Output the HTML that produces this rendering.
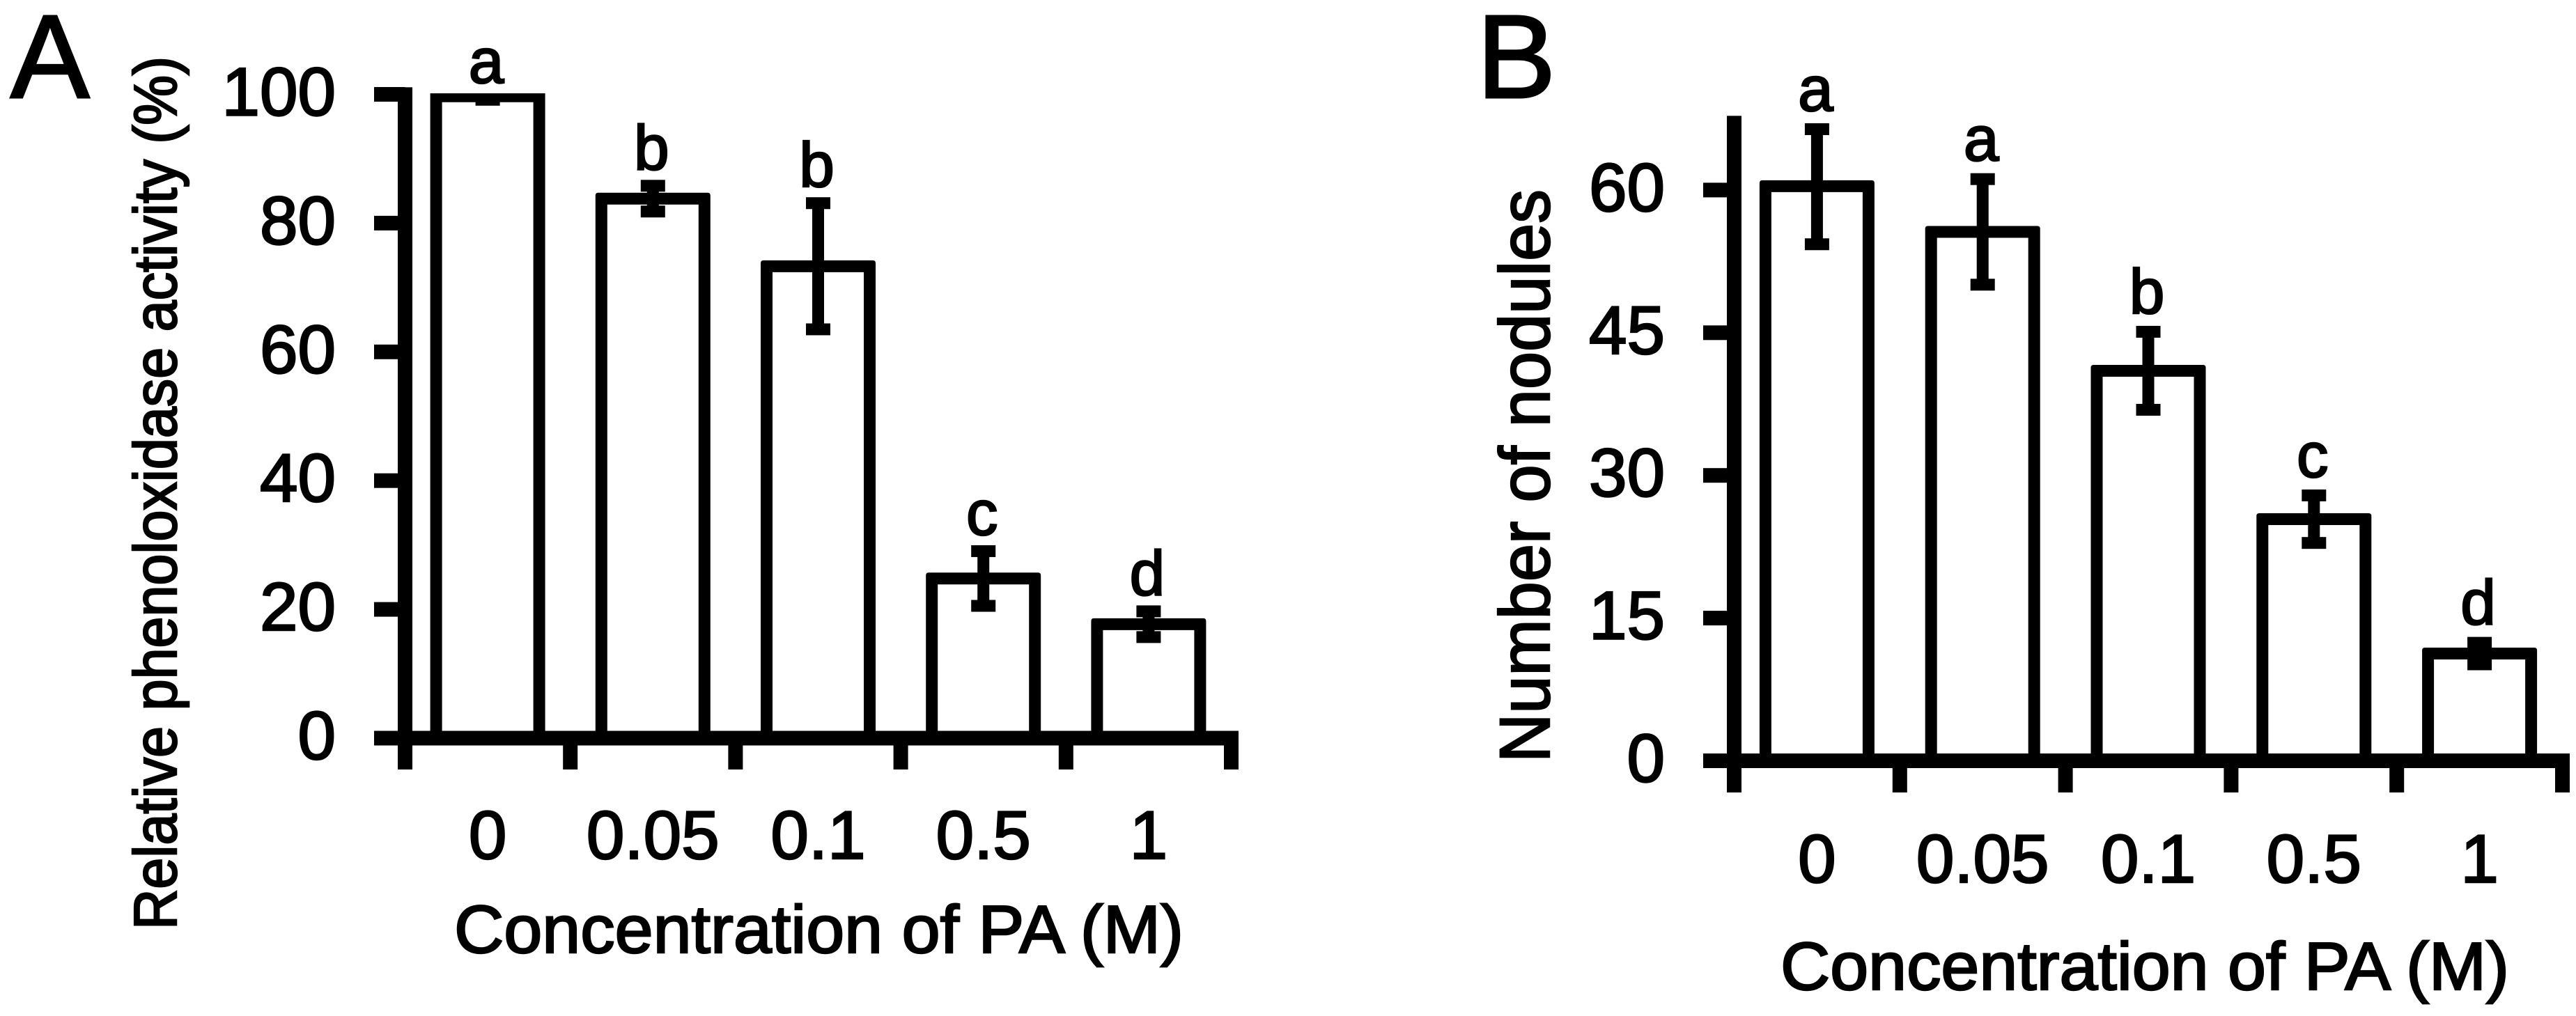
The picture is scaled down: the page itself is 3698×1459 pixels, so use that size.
<!DOCTYPE html>
<html lang="en">
<head>
<meta charset="utf-8">
<title>Phenoloxidase activity and nodule number by PA concentration</title>
<style>
  html, body { margin: 0; padding: 0; background: #fff; }
  svg { display: block; }
  text { font-family: "Liberation Sans", Arial, sans-serif; fill: #000; stroke: #000; stroke-width: 2.5px; text-rendering: geometricPrecision; }
  text.panel-letter { stroke-width: 3px; }
</style>
</head>
<body>
<svg id="figure" xmlns="http://www.w3.org/2000/svg" width="3698" height="1459" viewBox="0 0 3698 1459">
  <rect x="0" y="0" width="3698" height="1459" fill="#fff"/>
  <text class="panel-letter" x="15" y="140" font-size="170">A</text>
  <text class="panel-letter" x="2120" y="140" font-size="170">B</text>
  <text transform="translate(253 1335) rotate(-90)" font-size="87" textLength="1254" lengthAdjust="spacingAndGlyphs">Relative phenoloxidase activity (%)</text>
  <text transform="translate(2224 1095) rotate(-90)" font-size="102" textLength="823" lengthAdjust="spacingAndGlyphs">Number of nodules</text>
  <text x="652" y="1368" font-size="97" textLength="1047" lengthAdjust="spacingAndGlyphs">Concentration of PA (M)</text>
  <text x="2556" y="1421" font-size="97" textLength="1046" lengthAdjust="spacingAndGlyphs">Concentration of PA (M)</text>
  <g id="panel-a"></g>
  <g id="panel-b"></g>
</svg>
<script>
// Shared categories
const categories = ["0", "0.05", "0.1", "0.5", "1"];

// Panel A data: relative phenoloxidase activity (%)
const valuesA = [99.7, 83.8, 73.3, 24.8, 17.7];
const errUpA = [0.54, 2.0, 9.8, 4.25, 2.0];
const errDownA = [0.54, 2.0, 9.8, 4.25, 2.0];
const lettersA = ["a", "b", "b", "c", "d"];
const ticksA = [0, 20, 40, 60, 80, 100];

// Panel B data: number of nodules
const valuesB = [60.4, 55.6, 41.0, 25.4, 11.27];
const errUpB = [6.0, 5.55, 4.1, 2.5, 1.13];
const errDownB = [6.1, 5.55, 4.1, 2.5, 1.13];
const lettersB = ["a", "a", "b", "c", "d"];
const ticksB = [0, 15, 30, 45, 60];

const SVG_NS = "http://www.w3.org/2000/svg";

function make(parent, tag, attrs, content) {
  const el = document.createElementNS(SVG_NS, tag);
  for (const key in attrs) el.setAttribute(key, attrs[key]);
  if (content !== undefined) el.textContent = content;
  parent.appendChild(el);
  return el;
}

function barOutline(cx, yTop, yBase) {
  const half = 82.5;
  const s = 17;
  const r = 4;
  const x0 = cx - half;
  const x1 = cx + half;
  return "M" + x0 + " " + yBase +
    "V" + (yTop + r) +
    "Q" + x0 + " " + yTop + " " + (x0 + r) + " " + yTop +
    "H" + (x1 - r) +
    "Q" + x1 + " " + yTop + " " + x1 + " " + (yTop + r) +
    "V" + yBase +
    "H" + (x1 - s) +
    "V" + (yTop + s) +
    "H" + (x0 + s) +
    "V" + yBase + "Z";
}

function drawPanel(root, opt) {
  const yScale = v => opt.zeroY - v * opt.unitPx;
  const bandEdge = i => opt.axisX + i * opt.bandPx;
  const barCenter = i => bandEdge(i) + opt.bandPx / 2;
  const lw = 21;
  const plotTop = yScale(opt.plotTopValue);

  // Clip region for the marks: nothing rises past the top of the plot area
  const clip = make(root, "clipPath", { id: opt.clipId });
  make(clip, "rect", { x: 0, y: plotTop, width: 3698, height: 1459 - plotTop });

  // Y axis line
  const top = yScale(opt.axisMax);
  const yAxis = make(root, "rect", { x: opt.axisX - lw / 2, y: top, width: lw, height: opt.tickBottom - top, fill: "#000" });
  
  

  // X axis line
  const xEnd = bandEdge(categories.length) + lw / 2;
  const xAxis = make(root, "rect", { x: opt.tickLeft, y: opt.zeroY - lw / 2, width: xEnd - opt.tickLeft, height: lw, fill: "#000" });
  
  

  // Y ticks and labels
  opt.ticks.forEach(t => {
    const y = yScale(t);
    const tick = make(root, "rect", { x: opt.tickLeft, y: y - lw / 2, width: opt.axisX - opt.tickLeft, height: lw, fill: "#000" });
    
    
    const label = make(root, "text", { x: opt.tickLeft - 55, y: y + 30, "font-size": 98, "text-anchor": "end" }, String(t));
    
    
  });

  // X ticks at band edges
  for (let i = 0; i <= categories.length; i++) {
    const tick = make(root, "rect", { x: bandEdge(i) - lw / 2, y: opt.zeroY, width: lw, height: opt.tickBottom - opt.zeroY, fill: "#000" });
    
    
  }

  // Bars, error bars, category labels and significance letters
  const capHalf = 17.5;
  const capT = 17;
  const stemW = 17;
  categories.forEach((cat, i) => {
    const cx = barCenter(i);
    const barY = yScale(opt.values[i]);
    const yTop = barY - 8.5;

    const marks = make(root, "g", { "clip-path": "url(#" + opt.clipId + ")" });
    
    

    const bar = make(marks, "path", { d: barOutline(cx, yTop, opt.zeroY), fill: "#000" });
    
    

    const yHi = yScale(opt.values[i] + opt.errUp[i]);
    const yLo = yScale(opt.values[i] - opt.errDown[i]);

    const stem = make(marks, "rect", { x: cx - stemW / 2, y: yHi, width: stemW, height: yLo - yHi, fill: "#000" });
    
    

    const capTop = make(marks, "rect", { x: cx - capHalf, y: yHi - capT / 2, width: capHalf * 2, height: capT, fill: "#000" });
    
    

    const capBottom = make(marks, "rect", { x: cx - capHalf, y: yLo - capT / 2, width: capHalf * 2, height: capT, fill: "#000" });
    
    

    const highest = Math.max(plotTop, Math.min(yTop, yHi - capT / 2));
    const letter = make(root, "text", { x: cx - 2, y: highest - opt.letterGap, "font-size": 91, "text-anchor": "middle" }, opt.letters[i]);
    
    

    const catLabel = make(root, "text", { x: cx, y: opt.catBaseline, "font-size": 98, "text-anchor": "middle" }, cat);
    
    
  });
}

drawPanel(document.getElementById("panel-a"), {
  values: valuesA, errUp: errUpA, errDown: errDownA, letters: lettersA, ticks: ticksA,
  zeroY: 1060, unitPx: 9.245, axisMax: 101.1, plotTopValue: 100.16, clipId: "plot-clip-a",
  axisX: 581.5, bandPx: 237.2, tickLeft: 537, tickBottom: 1105,
  catBaseline: 1233, letterGap: 15
});

drawPanel(document.getElementById("panel-b"), {
  values: valuesB, errUp: errUpB, errDown: errDownB, letters: lettersB, ticks: ticksB,
  zeroY: 1092.5, unitPx: 13.66, axisMax: 67.8, plotTopValue: 67.8, clipId: "plot-clip-b",
  axisX: 2489.5, bandPx: 237.8, tickLeft: 2445, tickBottom: 1138,
  catBaseline: 1267, letterGap: 18
});
</script>
</body>
</html>
